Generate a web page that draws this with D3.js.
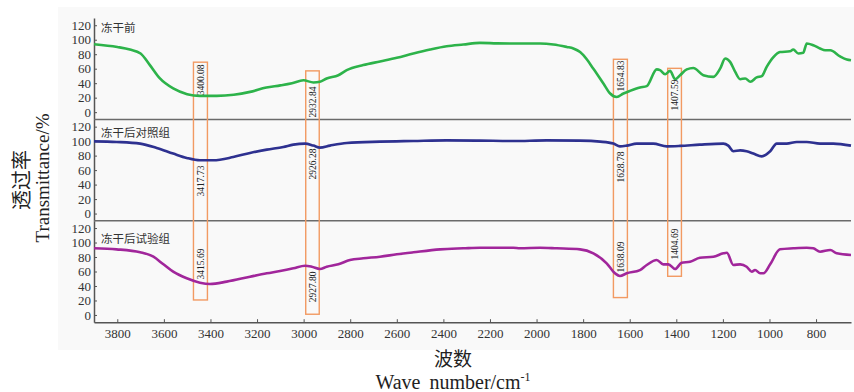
<!DOCTYPE html>
<html>
<head>
<meta charset="utf-8">
<script src="https://cdn.jsdelivr.net/npm/d3@7"></script>
<style>
  body { margin: 0; background: #fff; }
  .tick text { font-family: "Liberation Serif", serif; font-size: 13px; fill: #333; }
  .tick line { stroke: #555; }
  .domain { stroke: #555; stroke-width: 1.5; }
</style>
</head>
<body>
<div id="container"></div>
<script>
// series names
var seriesNames = ["冻干前", "冻干后对照组", "冻干后试验组"];

// 冻干前 (wave number, transmittance)
var wnBefore = [3900, 3800, 3746, 3700, 3660, 3617, 3560, 3500, 3445, 3373, 3300, 3230, 3160, 3100, 3050, 3001, 2958, 2930, 2901, 2851, 2815, 2744, 2672, 2600, 2529, 2457, 2386, 2314, 2243, 2171, 2100, 1985, 1928, 1870, 1842, 1813, 1799, 1756, 1713, 1684, 1656, 1627, 1599, 1556, 1527, 1484, 1470, 1448, 1427, 1405, 1384, 1355, 1327, 1284, 1241, 1212, 1190, 1169, 1147, 1126, 1104, 1082, 1055, 1033, 1012, 983, 955, 912, 898, 876, 855, 840, 812, 783, 761, 739, 697, 668, 650];
var tBefore = [93.8, 90, 86.5, 81, 65, 46.5, 32.7, 24.8, 22.5, 22.5, 24, 28, 34, 37, 40, 44, 41, 42, 46.5, 51, 58, 65, 70, 75, 81, 86.5, 91, 93.4, 95.6, 95, 94.7, 94.7, 93.4, 90, 88, 83, 78.6, 60, 39.6, 25.8, 21, 25.8, 29.4, 34, 35.9, 59, 58, 52.4, 57, 45.5, 51, 59, 61, 51, 48.7, 60, 74, 69.4, 55.6, 45.5, 46.5, 42, 48, 49.7, 62.5, 76, 83, 84, 86.5, 81, 82, 94.7, 92.4, 88, 85.5, 85.5, 77, 72.7, 71.7];

// 冻干后对照组
var wnControl = [3900, 3803, 3702, 3631, 3560, 3502, 3445, 3388, 3302, 3230, 3158, 3087, 3044, 2994, 2958, 2930, 2887, 2815, 2672, 2529, 2386, 2243, 2100, 1956, 1813, 1727, 1670, 1642, 1613, 1570, 1499, 1441, 1384, 1299, 1198, 1177, 1155, 1126, 1098, 1069, 1033, 997, 969, 926, 883, 840, 783, 726, 650];
var tControl = [99.7, 98.9, 96.6, 90.6, 82.8, 76.8, 73.5, 73.5, 78, 83.7, 88.3, 92, 95.2, 96.6, 93.8, 91, 93.8, 97.5, 99.3, 100.2, 101, 100.7, 100.2, 101, 100.7, 99.3, 96.6, 92.8, 93.8, 96.6, 96.6, 92.8, 93.4, 95.2, 96.6, 93.8, 86, 87.3, 86, 82.8, 79, 86, 96.6, 96.6, 98.9, 98.9, 96.6, 96.6, 93.8];

// 冻干后试验组
var wnTest = [3900, 3803, 3702, 3645, 3602, 3560, 3502, 3445, 3402, 3330, 3230, 3158, 3101, 3044, 2994, 2965, 2930, 2901, 2851, 2801, 2744, 2672, 2600, 2529, 2414, 2314, 2243, 2100, 2071, 1985, 1913, 1813, 1756, 1699, 1663, 1642, 1613, 1556, 1527, 1484, 1456, 1434, 1405, 1377, 1341, 1299, 1241, 1198, 1183, 1155, 1126, 1098, 1076, 1062, 1040, 1026, 997, 955, 898, 840, 812, 783, 739, 711, 650];
var tTest = [92, 90.6, 86.5, 80.4, 69.9, 59.7, 50.6, 44.6, 42.8, 46, 52.8, 57.5, 60.7, 64.4, 68, 66.6, 63.4, 66.6, 69.9, 75.9, 78.2, 80.4, 83.7, 86.5, 90.6, 92, 92.8, 92.8, 92, 92.8, 92, 90.6, 85.1, 71.3, 57.5, 53.8, 57.5, 62, 69, 75.9, 69.9, 69.9, 63.4, 72.1, 73.5, 79, 80.4, 85.1, 85.9, 69, 69.9, 66.6, 59.7, 62, 57.5, 57.5, 69.9, 90.6, 92, 92.8, 92, 87.3, 89.7, 85.1, 82.8];

// axis ticks
var xTicks = [3800, 3600, 3400, 3200, 3000, 2800, 2600, 2400, 2200, 2000, 1800, 1600, 1400, 1200, 1000, 800];
var yTicks = [0, 20, 40, 60, 80, 100, 120];

// marked bands: wave number range, box top (panel 0 value), box bottom (panel 2 value)
var bandFrom = [3473, 2991, 1670, 1437];
var bandTo = [3413, 2933, 1610, 1378];
var bandTop = [69, 57, 73, 60.5];
var bandBottom = [20.7, 1, 24, 53.4];

// peak labels: [band, panel, label, value where the label is centred]
var peakLabels = [
  [0, 0, "3400.08", 44.5], [0, 1, "3417.73", 45], [0, 2, "3415.69", 70.4],
  [1, 0, "2932.84", 14], [1, 1, "2926.28", 68.5], [1, 2, "2927.80", 38.7],
  [2, 0, "1654.83", 50], [2, 1, "1628.78", 64.3], [2, 2, "1638.09", 80],
  [3, 0, "1407.59", 23.7], [3, 2, "1404.69", 98]
];

var colors = ["#2db34a", "#2e3190", "#a1269b"];

var width = 854, height = 392;
var plotLeft = 94, plotRight = 851, plotTop = 18, panelH = 101.4;

var svg = d3.select("#container").append("svg")
  .attr("width", width).attr("height", height);

// light grey background behind the plot
svg.append("rect")
  .attr("x", 58).attr("y", 7)
  .attr("width", width - 58).attr("height", 343)
  .attr("fill", "#f9f9f9");

var x = d3.scaleLinear().domain([3900, 650]).range([plotLeft, plotRight]);

var ys = seriesNames.map(function(d, i) {
  return d3.scaleLinear().domain([-10, 130])
    .range([plotTop + panelH * (i + 1), plotTop + panelH * i]);
});

var series = seriesNames.map(function(name, i) {
  var wn = [wnBefore, wnControl, wnTest][i];
  var t = [tBefore, tControl, tTest][i];
  return { name: name, values: wn.map(function(w, j) { return { wn: w, t: t[j] }; }) };
});

// y axes, one per panel, ticks inside
ys.forEach(function(y) {
  svg.append("g")
    .attr("transform", "translate(" + plotLeft + ",0)")
    .call(d3.axisLeft(y).tickValues(yTicks).tickSizeInner(-3).tickSizeOuter(0).tickPadding(3));
});

// panel dividers
[1, 2].forEach(function(i) {
  svg.append("line")
    .attr("x1", plotLeft).attr("x2", plotRight)
    .attr("y1", plotTop + panelH * i).attr("y2", plotTop + panelH * i)
    .attr("stroke", "#6b6b6b").attr("stroke-width", 1.5);
});

// x axis
svg.append("g")
  .attr("transform", "translate(0," + (plotTop + panelH * 3) + ")")
  .call(d3.axisBottom(x).tickValues(xTicks).tickFormat(d3.format("d"))
    .tickSizeInner(-3).tickSizeOuter(0).tickPadding(7));

// orange boxes
bandFrom.forEach(function(b, i) {
  var y0 = ys[0](bandTop[i]), y1 = ys[2](bandBottom[i]);
  svg.append("rect")
    .attr("x", x(b)).attr("y", y0)
    .attr("width", x(bandTo[i]) - x(b)).attr("height", y1 - y0)
    .attr("fill", "none")
    .attr("stroke", "#f29a62").attr("stroke-width", 1.4);
});

// spectra
var line = function(y) {
  return d3.line()
    .x(function(d) { return x(d.wn); })
    .y(function(d) { return y(d.t); })
    .curve(d3.curveMonotoneX);
};
series.forEach(function(s, i) {
  svg.append("path")
    .datum(s.values)
    .attr("d", line(ys[i]))
    .attr("fill", "none")
    .attr("stroke", colors[i])
    .attr("stroke-width", 2.6)
    .attr("stroke-linejoin", "round");
});

// series names
var nameDy = [10, 13.6, 18];
series.forEach(function(s, i) {
  svg.append("text")
    .attr("x", 101)
    .attr("y", plotTop + panelH * i + nameDy[i])
    .attr("dy", "0.36em")
    .style("font-family", "'Noto Sans CJK SC', sans-serif")
    .style("font-size", "11.5px")
    .style("fill", "#333")
    .text(s.name);
});

// peak labels
peakLabels.forEach(function(p) {
  var cx = (x(bandFrom[p[0]]) + x(bandTo[p[0]])) / 2;
  var cy = ys[p[1]](p[3]);
  svg.append("text")
    .attr("transform", "translate(" + cx + "," + cy + ") rotate(-90)")
    .attr("text-anchor", "middle")
    .attr("dy", "0.35em")
    .style("font-family", "'Liberation Serif', serif")
    .style("font-size", "9.5px")
    .style("fill", "#222")
    .text(p[2]);
});

// axis titles
svg.append("text")
  .attr("transform", "translate(22,180) rotate(-90)")
  .attr("text-anchor", "middle").attr("dy", "0.36em")
  .style("font-family", "'Noto Sans CJK SC', sans-serif")
  .style("font-size", "20px").style("fill", "#222")
  .text("透过率");

svg.append("text")
  .attr("transform", "translate(43,178) rotate(-90)")
  .attr("text-anchor", "middle").attr("dy", "0.33em")
  .style("font-family", "'Liberation Serif', serif")
  .style("font-size", "19px").style("fill", "#222")
  .text("Transmittance/%");

svg.append("text")
  .attr("x", 453).attr("y", 366)
  .attr("text-anchor", "middle")
  .style("font-family", "'Noto Sans CJK SC', sans-serif")
  .style("font-size", "19px").style("fill", "#222")
  .text("波数");

var xt = svg.append("text")
  .attr("x", 453).attr("y", 389)
  .attr("text-anchor", "middle")
  .style("font-family", "'Liberation Serif', serif")
  .style("font-size", "20px").style("fill", "#222");
xt.append("tspan").text("Wave");
xt.append("tspan").attr("dx", 9).text("number/cm");
xt.append("tspan").attr("dy", -8).style("font-size", "12px").text("-1");
</script>
</body>
</html>
